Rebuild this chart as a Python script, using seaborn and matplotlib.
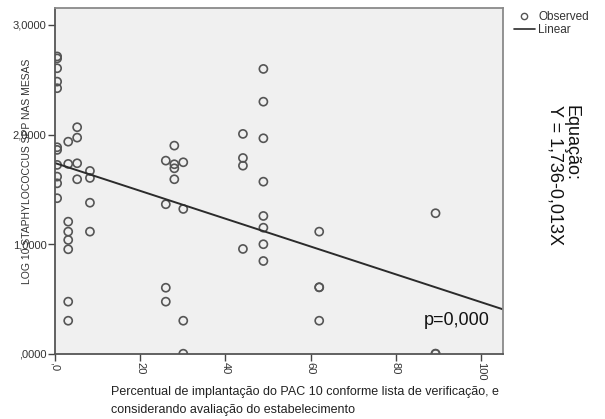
import matplotlib
matplotlib.use("Agg")
import matplotlib.pyplot as plt
import seaborn as sns
import numpy as np
import pandas as pd
from matplotlib.lines import Line2D

# ---- data ----
x_obs = ([0.5] * 11 + [3.1] * 8 + [5.2] * 4 + [8.2] * 4 + [26.0] * 4 + [28.0] * 4 +
         [30.1] * 4 + [44.1] * 4 + [48.9] * 8 + [62.0] * 4 + [89.3] * 3)
y_obs = [2.713, 2.695, 2.605, 2.483, 2.423, 1.884, 1.860, 1.723, 1.616, 1.555, 1.419,
         1.935, 1.732, 1.205, 1.114, 1.038, 0.953, 0.475, 0.301,
         2.067, 1.972, 1.738, 1.592,
         1.668, 1.604, 1.378, 1.114,
         1.762, 1.364, 0.602, 0.475,
         1.899, 1.729, 1.692, 1.592,
         1.747, 1.321, 0.301, 0.0,
         2.006, 1.786, 1.716, 0.956,
         2.599, 2.300, 1.966, 1.570, 1.257, 1.150, 0.999, 0.846,
         1.114, 0.606, 0.606, 0.301,
         1.282, 0.0, 0.0]
intercept = 1.740
slope = -0.0127
x_ticks = [0, 20, 40, 60, 80, 100]
x_tick_labels = [",0", "20", "40", "60", "80", "100"]
y_ticks = [0, 1, 2, 3]
y_tick_labels = [",0000", "1,0000", "2,0000", "3,0000"]
x_limits = [0, 105.2]
y_limits = [0, 3.155]

sns.set_theme(style="white")
plt.rcParams['font.family'] = ['Liberation Sans', 'DejaVu Sans']

fig = plt.figure(figsize=(6.05, 4.19), dpi=100)
ax = fig.add_axes([55/605, 1 - 353.7/419, (503.3 - 55)/605, (353.7 - 8)/419])
ax.set_facecolor("#f0f0f0")

df = pd.DataFrame({"x": x_obs, "y": y_obs})
sns.scatterplot(data=df, x="x", y="y", ax=ax, marker="o", s=34,
                facecolors="none", edgecolor="#555555", linewidth=1.2, clip_on=True)

line_df = pd.DataFrame({"x": x_limits,
                        "y": [intercept + slope * v for v in x_limits]})
sns.lineplot(data=line_df, x="x", y="y", ax=ax, color="#2b2b2b", linewidth=1.4)

ax.set_xlim(*x_limits)
ax.set_ylim(*y_limits)
ax.set_xticks(x_ticks)
ax.set_xticklabels(x_tick_labels, rotation=-90, fontsize=8, color="#333333")
ax.set_yticks(y_ticks)
ax.set_yticklabels(y_tick_labels, fontsize=8, color="#333333")
ax.tick_params(axis="both", direction="out", length=5, width=1, color="#444444",
               left=True, bottom=True, pad=1)

for s in ["left", "bottom"]:
    ax.spines[s].set_color("#555555")
    ax.spines[s].set_linewidth(1.3)
for s in ["top", "right"]:
    ax.spines[s].set_color("#8a8a8a")
    ax.spines[s].set_linewidth(1.3)

ax.set_ylabel("LOG 10 STAPHYLOCOCCUS SPP NAS MESAS", fontsize=7.5, color="#333333")
ax.yaxis.set_label_coords((27 - 55) / 448.3, 0.527)
ax.yaxis.label.set_va("center")

ax.set_xlabel("Percentual de implantação do PAC 10 conforme lista de verificação, e\n"
              "considerando avaliação do estabelecimento",
              fontsize=9, color="#222222", ha="left", multialignment="left",
              linespacing=1.65)
ax.xaxis.set_label_coords((111 - 55) / 448.3, (353.7 - 386) / 345.7)
ax.xaxis.label.set_va("top")

ax.text((424 - 55) / 448.3, (353.7 - 320) / 345.7, "p=0,000", transform=ax.transAxes,
        fontsize=13, ha="left", va="center", color="#111111")

fig.text(563 / 605, 1 - 105 / 419, "Equação:\nY = 1,736-0,013X", rotation=-90,
         ha="center", va="top", multialignment="left", fontsize=13, color="#111111",
         linespacing=0.95)

handles = [Line2D([], [], marker="o", linestyle="none", markerfacecolor="none",
                  markeredgecolor="#555555", markersize=4.5, markeredgewidth=1),
           Line2D([], [], color="#2b2b2b", linewidth=1.2)]
fig.legend(handles, ["Observed", "Linear"], loc="upper left",
           bbox_to_anchor=(514 / 605, 1 - 11 / 419), frameon=False, fontsize=8.5,
           handlelength=1.75, handletextpad=0.3, labelspacing=0.1, borderpad=0,
           borderaxespad=0, labelcolor="#333333")

fig.savefig("out.png", dpi=100, facecolor="white")
